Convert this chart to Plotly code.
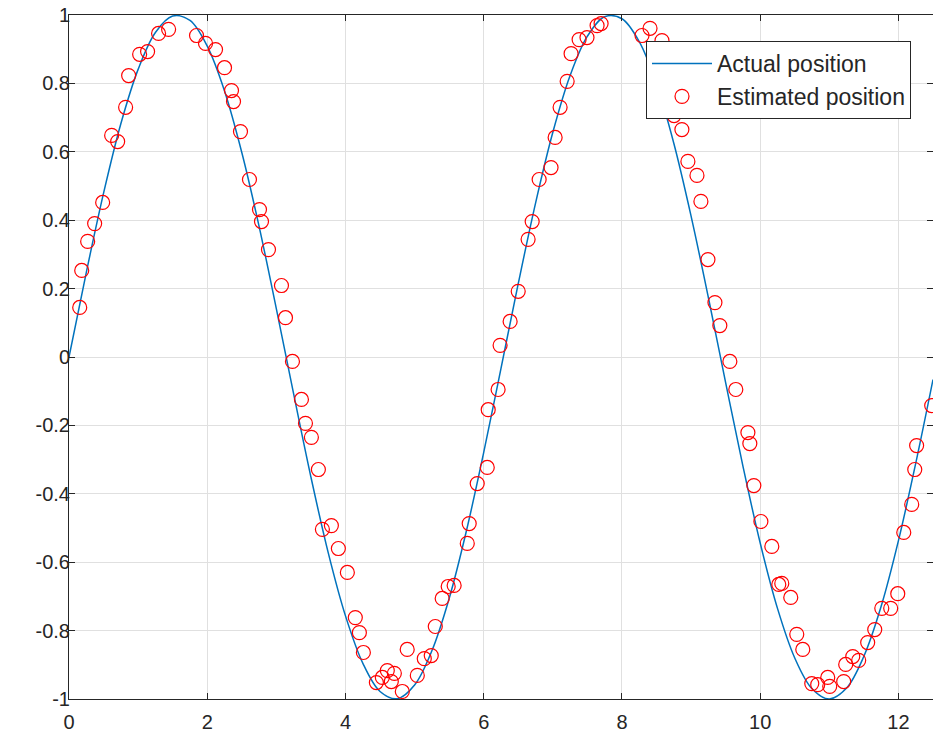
import plotly.graph_objects as go

# Actual position (curve)
actual_x = [0, 0.25, 0.5, 0.75, 1.0, 1.25, 1.5, 1.75, 2.0, 2.25, 2.5, 2.75, 3.0, 3.25, 3.5, 3.75,
            4.0, 4.25, 4.5, 4.75, 5.0, 5.25, 5.5, 5.75, 6.0, 6.25, 6.5, 6.75, 7.0, 7.25, 7.5, 7.75,
            8.0, 8.25, 8.5, 8.75, 9.0, 9.25, 9.5, 9.75, 10.0, 10.25, 10.5, 10.75, 11.0, 11.25, 11.5,
            11.75, 12.0, 12.25, 12.5]
actual_y = [0.0, 0.247, 0.479, 0.682, 0.841, 0.949, 0.997, 0.984, 0.909, 0.778, 0.598, 0.382, 0.141,
            -0.108, -0.351, -0.572, -0.757, -0.895, -0.978, -0.999, -0.959, -0.859, -0.706, -0.508,
            -0.279, -0.033, 0.215, 0.450, 0.657, 0.823, 0.938, 0.995, 0.989, 0.922, 0.798, 0.625,
            0.412, 0.174, -0.075, -0.319, -0.544, -0.735, -0.880, -0.970, -1.000, -0.968, -0.875,
            -0.729, -0.537, -0.311, -0.066]

# Estimated position (markers)
est_x = [0.155, 0.184, 0.270, 0.371, 0.487, 0.617, 0.704, 0.819, 0.863, 1.022, 1.137, 1.296, 1.441,
         1.845, 1.975, 2.120, 2.250, 2.351, 2.380, 2.481, 2.611, 2.756, 2.785, 2.886, 3.074, 3.132,
         3.233, 3.363, 3.421, 3.507, 3.608, 3.666, 3.796, 3.897, 4.027, 4.142, 4.201, 4.259, 4.447,
         4.533, 4.605, 4.663, 4.707, 4.822, 4.893, 5.039, 5.140, 5.241, 5.299, 5.399, 5.486, 5.572,
         5.762, 5.790, 5.906, 6.051, 6.065, 6.208, 6.237, 6.382, 6.499, 6.642, 6.701, 6.802, 6.974,
         7.033, 7.105, 7.207, 7.264, 7.380, 7.494, 7.640, 7.698, 8.290, 8.406, 8.579, 8.753, 8.867,
         8.954, 9.085, 9.142, 9.244, 9.345, 9.416, 9.561, 9.647, 9.822, 9.850, 9.908, 10.010, 10.168,
         10.269, 10.312, 10.442, 10.529, 10.616, 10.746, 10.832, 10.977, 11.006, 11.208, 11.237,
         11.339, 11.425, 11.555, 11.657, 11.759, 11.888, 11.990, 12.077, 12.192, 12.236, 12.263,
         12.481]
est_y = [0.145, 0.253, 0.338, 0.390, 0.452, 0.648, 0.630, 0.730, 0.823, 0.885, 0.893, 0.946, 0.958,
         0.940, 0.917, 0.899, 0.846, 0.779, 0.747, 0.659, 0.519, 0.431, 0.396, 0.314, 0.209, 0.115,
         -0.013, -0.124, -0.194, -0.235, -0.329, -0.504, -0.493, -0.560, -0.630, -0.762, -0.806,
         -0.864, -0.952, -0.937, -0.917, -0.949, -0.925, -0.978, -0.855, -0.931, -0.882, -0.873,
         -0.788, -0.706, -0.671, -0.668, -0.545, -0.487, -0.370, -0.323, -0.154, -0.095, 0.034,
         0.104, 0.192, 0.344, 0.396, 0.519, 0.554, 0.642, 0.730, 0.806, 0.887, 0.928, 0.934, 0.969,
         0.975, 0.940, 0.961, 0.925, 0.706, 0.665, 0.572, 0.531, 0.455, 0.285, 0.159, 0.092, -0.013,
         -0.095, -0.221, -0.253, -0.376, -0.481, -0.554, -0.665, -0.662, -0.703, -0.811, -0.855,
         -0.955, -0.958, -0.937, -0.963, -0.949, -0.899, -0.876, -0.887, -0.835, -0.797, -0.735,
         -0.735, -0.692, -0.513, -0.431, -0.329, -0.259, -0.142]

x_ticks = [0, 2, 4, 6, 8, 10, 12]
x_tick_labels = ["0", "2", "4", "6", "8", "10", "12"]
y_ticks = [-1, -0.8, -0.6, -0.4, -0.2, 0, 0.2, 0.4, 0.6, 0.8, 1]
y_tick_labels = ["-1", "-0.8", "-0.6", "-0.4", "-0.2", "0", "0.2", "0.4", "0.6", "0.8", "1"]

FONT = "Liberation Sans, Arial, Helvetica, sans-serif"
AX = "#262626"

fig = go.Figure()
fig.add_trace(go.Scatter(
    x=actual_x, y=actual_y, mode="lines", name="Actual position",
    line=dict(color="#0072BD", width=1.5, shape="spline", smoothing=1.0),
    legendgroup="a",
))
fig.add_trace(go.Scatter(
    x=est_x, y=est_y, mode="markers", name="Estimated position",
    marker=dict(symbol="circle-open", color="#FF0000", size=14, line=dict(width=1.2, color="#FF0000")),
    legendgroup="b",
))

axis_common = dict(
    showgrid=True, gridcolor="#e0e0e0", gridwidth=1,
    showline=True, linecolor=AX, linewidth=1, mirror="ticks",
    ticks="inside", ticklen=6, tickcolor=AX, tickwidth=1,
    zeroline=False, automargin=False,
    tickfont=dict(family=FONT, size=20, color=AX),
)

fig.update_layout(
    width=933, height=741,
    margin=dict(l=69, r=0, t=15, b=42),
    paper_bgcolor="white", plot_bgcolor="white",
    showlegend=True,
    legend=dict(
        x=(911 - 69) / (933 - 69), xanchor="right",
        y=1 - (41 - 15) / (699 - 15), yanchor="top",
        bgcolor="white", bordercolor=AX, borderwidth=1,
        font=dict(family=FONT, size=23, color=AX),
        tracegroupgap=0, traceorder="grouped", itemwidth=60,
    ),
    xaxis=dict(range=[0, 12.5], tickvals=x_ticks, ticktext=x_tick_labels,
               ticklabelstandoff=5, **axis_common),
    yaxis=dict(range=[-1, 1], tickvals=y_ticks, ticktext=y_tick_labels,
               ticklabelstandoff=-6, **axis_common),
)

fig.write_html(
    "out.html",
    config={"displayModeBar": False},
    post_script="document.body.style.margin='0';document.body.style.overflow='hidden';",
)
